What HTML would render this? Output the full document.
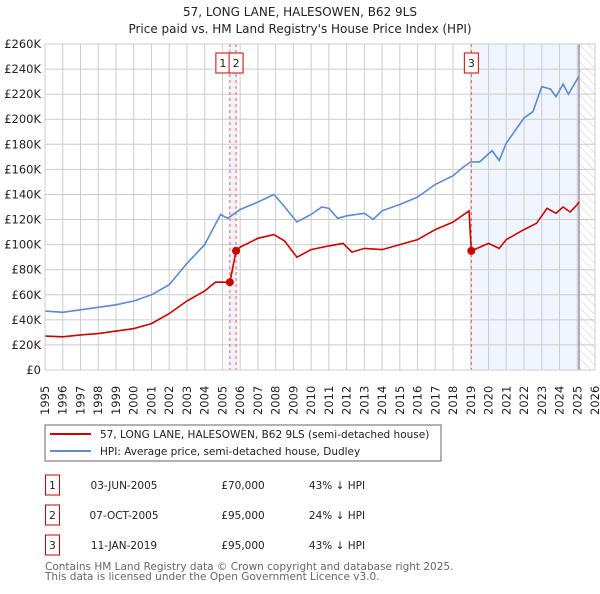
<!DOCTYPE html>
<html><head><meta charset="utf-8"><style>
body{margin:0;background:#fff;font-family:"DejaVu Sans",sans-serif;}
svg text{font-family:"DejaVu Sans",sans-serif;}
</style></head><body>
<svg id="c" width="600" height="590" xmlns="http://www.w3.org/2000/svg">
<defs><pattern id="h" width="6" height="6" patternUnits="userSpaceOnUse" patternTransform="rotate(-45)"><line x1="0" y1="0" x2="0" y2="6" stroke="#ccc" stroke-width="1"/></pattern></defs>
<text x="300" y="16" text-anchor="middle" font-size="12" fill="#222">57, LONG LANE, HALESOWEN, B62 9LS</text>
<text x="300" y="33" text-anchor="middle" font-size="12" fill="#222">Price paid vs. HM Land Registry's House Price Index (HPI)</text>
<g id="plot"></g>
<g id="legend">
<rect x="45" y="425" width="396" height="36" fill="#fff" stroke="#666"/>
<line x1="50" y1="434" x2="91" y2="434" stroke="#c00" stroke-width="2"/>
<text x="100" y="438" font-size="10.5" fill="#222">57, LONG LANE, HALESOWEN, B62 9LS (semi-detached house)</text>
<line x1="50" y1="451" x2="91" y2="451" stroke="#5b8bd0" stroke-width="2"/>
<text x="100" y="455" font-size="10.5" fill="#222">HPI: Average price, semi-detached house, Dudley</text>
</g>
<g id="table" font-size="10.5" fill="#222"></g>
<text x="45" y="570" font-size="10.5" fill="#666">Contains HM Land Registry data © Crown copyright and database right 2025.</text>
<text x="45" y="580" font-size="10.5" fill="#666">This data is licensed under the Open Government Licence v3.0.</text>
</svg>
<script>
const yTicks=[0,20,40,60,80,100,120,140,160,180,200,220,240,260];
const xYears=[1995,1996,1997,1998,1999,2000,2001,2002,2003,2004,2005,2006,2007,2008,2009,2010,2011,2012,2013,2014,2015,2016,2017,2018,2019,2020,2021,2022,2023,2024,2025,2026];
const hpiT=[1995,1996,1997,1998,1999,2000,2001,2002,2003,2004,2004.9,2005.3,2006,2007,2007.9,2008.4,2009.2,2010,2010.6,2011,2011.5,2012,2013,2013.5,2014,2015,2016,2017,2018,2018.5,2019,2019.5,2020.2,2020.6,2021,2022,2022.5,2023,2023.5,2023.8,2024.2,2024.5,2025,2025.1];
const hpiV=[47,46,48,50,52,55,60,68,85,100,124,121,128,134,140,132,118,124,130,129,121,123,125,120,127,132,138,148,155,161,166,166,175,167,181,201,206,226,224,218,228,220,232,234];
const ppT=[1995,1996,1997,1998,1999,2000,2001,2002,2003,2004,2004.6,2005.42,2005.77,2006,2007,2007.9,2008.5,2009.2,2010,2011,2011.8,2012.3,2013,2014,2015,2016,2017,2018,2018.9,2019.03,2020,2020.6,2021,2022,2022.7,2023.3,2023.8,2024.2,2024.6,2025,2025.1];
const ppV=[27,26.5,28,29,31,33,37,45,55,63,70,70,95,98,105,108,103,90,96,99,101,94,97,96,100,104,112,118,127,95,101,97,104,112,117,129,125,130,126,132,134];
const saleT=[2005.42,2005.77,2019.03];
const saleV=[70,95,95];
const saleLabel=["1","2","3"];
const saleDate=["03-JUN-2005","07-OCT-2005","11-JAN-2019"];
const salePrice=["£70,000","£95,000","£95,000"];
const saleHpi=["43% ↓ HPI","24% ↓ HPI","43% ↓ HPI"];
const NS="http://www.w3.org/2000/svg";
const L=45,R=595,T=44,B=370;
const X=t=>L+(t-1995)/31*(R-L);
const Y=v=>B-v/260*(B-T);
const g=document.getElementById('plot');
function mk(tag,a,p){const e=document.createElementNS(NS,tag);for(const k in a)e.setAttribute(k,a[k]);(p||g).appendChild(e);return e;}
let e;
e=mk('rect',{x:X(saleT[0]),y:T,width:X(saleT[1])-X(saleT[0]),height:B-T,fill:'#eef3fc'});

e=mk('rect',{x:X(saleT[2]),y:T,width:X(2025.1)-X(saleT[2]),height:B-T,fill:'#f1f5fd'});

e=mk('rect',{x:X(2025.1),y:T,width:R-X(2025.1),height:B-T,fill:'url(#h)'});

yTicks.forEach(v=>{
 e=mk('line',{x1:L,x2:R,y1:Y(v),y2:Y(v),stroke:'#ccc'});
 
 e=mk('text',{x:L-4,y:Y(v)+4,'text-anchor':'end','font-size':11.5,fill:'#222'});e.textContent='£'+v+(v?'K':'');
 
});
xYears.forEach(t=>{
 e=mk('line',{x1:X(t),x2:X(t),y1:T,y2:B,stroke:'#ccc'});
 
 const xx=X(t)+4;
 e=mk('text',{x:xx,y:B+45,'text-anchor':'start','font-size':11.5,fill:'#222',transform:'rotate(-90 '+xx+' '+(B+45)+')'});e.textContent=t;
 
});
e=mk('line',{x1:X(2025.1),x2:X(2025.1),y1:T,y2:B,stroke:'#999','stroke-width':1.5});

saleT.forEach((t,i)=>{
 e=mk('line',{x1:X(t),x2:X(t),y1:T,y2:B,stroke:'#e55','stroke-dasharray':'3,3'});
 
});
const pts=(ts,vs)=>ts.map((t,i)=>X(t).toFixed(1)+','+Y(vs[i]).toFixed(1)).join(' ');
e=mk('polyline',{points:pts(hpiT,hpiV),fill:'none',stroke:'#5b8bd0','stroke-width':1.6});

e=mk('polyline',{points:pts(ppT,ppV),fill:'none',stroke:'#c00','stroke-width':1.6});

saleT.forEach((t,i)=>{
 e=mk('circle',{cx:X(t),cy:Y(saleV[i]),r:4,fill:'#c00'});
 
 const bx=i==0?X(t)-14:X(t)-7;
 e=mk('rect',{x:bx,y:53,width:14,height:20,fill:'#fff',stroke:'#c00'});
 
 e=mk('text',{x:bx+7,y:67,'text-anchor':'middle','font-size':11,fill:'#222'});e.textContent=saleLabel[i];
 
});
e=mk('rect',{x:L,y:T,width:R-L,height:B-T,fill:'none',stroke:'#ccc'});

const tb=document.getElementById('table');
[485,515,545].forEach((yy,i)=>{
 e=mk('rect',{x:45.5,y:yy-10,width:14,height:20,fill:'#fff',stroke:'#c00'},tb);
 
 const cols=[[52.5,saleLabel[i],'middle'],[124,saleDate[i],'middle'],[243,salePrice[i],'middle'],[337,saleHpi[i],'middle']];
 cols.forEach(c=>{e=mk('text',{x:c[0],y:yy+4,'text-anchor':c[2]},tb);e.textContent=c[1];
 });
});
</script>
</body></html>
